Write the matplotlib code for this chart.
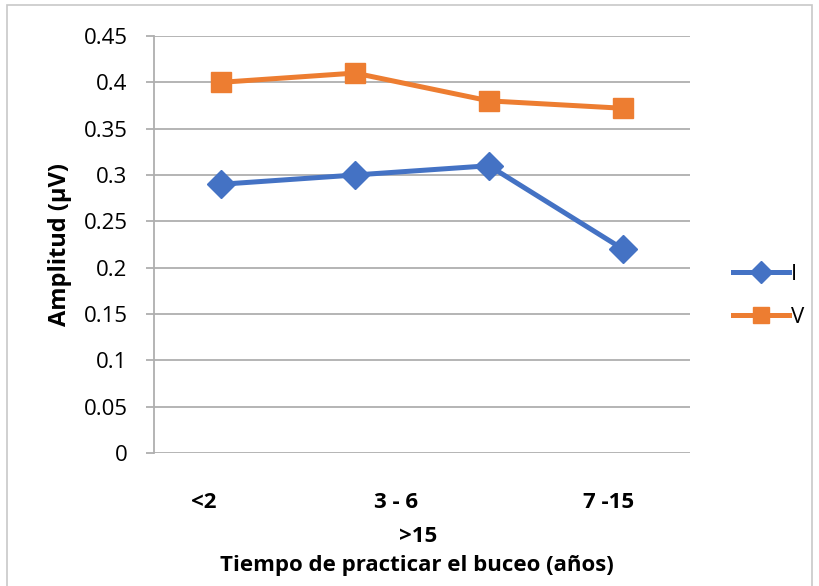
import matplotlib.pyplot as plt
from matplotlib.lines import Line2D
from matplotlib.patches import Rectangle

plt.rcParams["font.family"] = ["Open Sans", "DejaVu Sans"]

# data
categories = ["<2", "3 - 6", ">15", "7 -15"]
serie_I = [0.29, 0.30, 0.31, 0.22]
serie_V = [0.40, 0.41, 0.38, 0.372]
yticks = [0, 0.05, 0.1, 0.15, 0.2, 0.25, 0.3, 0.35, 0.4, 0.45]
ytick_labels = ["0", "0.05", "0.1", "0.15", "0.2", "0.25", "0.3", "0.35", "0.4", "0.45"]

blue = "#4472C4"
orange = "#ED7D31"
grid = "#AFAFAF"

W, H = 819, 586
fig = plt.figure(figsize=(W / 100, H / 100), dpi=100)
ax = fig.add_axes([154 / W, 1 - 453 / H, 536 / W, 417 / H])

x = list(range(4))
ax.plot(x, serie_I, color=blue, lw=3.6, marker="D", ms=14, label="I",
        markeredgecolor=blue, zorder=3)
ax.plot(x, serie_V, color=orange, lw=3.6, marker="s", ms=14, label="V",
        markeredgecolor=orange, zorder=3)

ax.set_xlim(-0.5, 3.5)
ax.set_ylim(0, 0.45)
ax.set_yticks(yticks)
ax.set_yticklabels(ytick_labels, fontsize=16)
ax.yaxis.grid(True, color=grid, lw=1.3)
ax.tick_params(axis="y", length=6, width=1.3, color=grid, pad=13)
ax.set_xticks([])
for s in ["top", "right", "bottom"]:
    ax.spines[s].set_visible(False)
ax.spines["left"].set_color(grid)
ax.spines["left"].set_linewidth(1.3)

# staggered category labels, like the excel axis
lab_pos = [(-0.13, 0), (1.31, 0), (1.47, 1), (2.89, 0)]
for lab, (px, row) in zip(categories, lab_pos):
    ax.text(px, -(503 - 453 + row * 34) / 417, lab, transform=ax.get_xaxis_transform(),
            ha="center", va="center", fontsize=16, fontweight="bold")

fig.text(60 / W, 1 - 244 / H, "Amplitud (µV)", rotation=90, ha="center", va="center",
         fontsize=17, fontweight="bold")
fig.text(417 / W, 1 - 566 / H, "Tiempo de practicar el buceo (años)",
         ha="center", va="center", fontsize=16, fontweight="bold")

handles = [Line2D([], [], color=blue, lw=3.6, marker="D", ms=11),
           Line2D([], [], color=orange, lw=3.6, marker="s", ms=12)]
fig.legend(handles, ["I", "V"], loc="center left", bbox_to_anchor=(722 / W, 1 - 296 / H),
           frameon=False, fontsize=16, handlelength=2.5, handletextpad=0.1,
           labelspacing=1.0, borderpad=0)

fig.patches.append(Rectangle((7 / W, -0.05), 805 / W, 1.05 - 5 / H, transform=fig.transFigure,
                             fill=False, edgecolor="#C8C8C8", lw=1.2))

fig.savefig("out.png", dpi=100)
